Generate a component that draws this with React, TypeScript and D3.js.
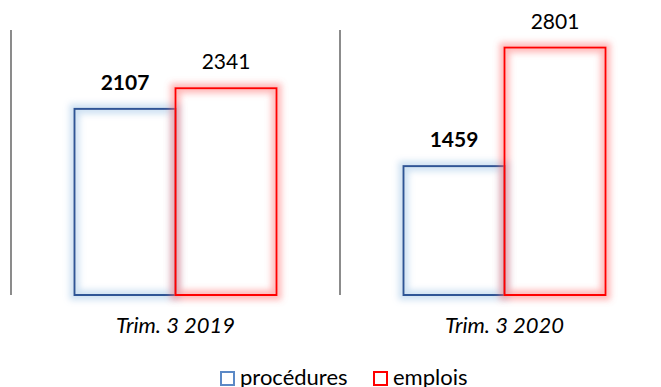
import React from "react";
import * as d3 from "d3";

const categories = ["Trim. 3 2019", "Trim. 3 2020"];
const seriesNames = ["procédures", "emplois"];
const procedures = [2107, 1459];
const emplois = [2341, 2801];

const W = 661;
const H = 387;
const FONT = "Lato, 'Open Sans', sans-serif";

export default function App() {
  const x = d3.scaleBand<string>().domain(categories).range([11, 669]);
  const inner = d3.scaleBand<string>().domain(seriesNames).range([0, 202]);
  const y = d3.scaleLinear().domain([0, 3000]).range([295, 30]);
  const series = [
    { name: "procedures", values: procedures, stroke: "#2F5496", glow: "#9DC3E6", legend: "#5B89C6", bold: true },
    { name: "emplois", values: emplois, stroke: "#FF0000", glow: "#FF7070", legend: "#FF0000", bold: false },
  ];
  return (
    <svg width={W} height={H} style={{ position: "absolute", left: 0, top: 0, background: "#fff" }}>
      <defs>
        {series.map((s) => (
          <filter key={s.name} id={"glow-" + s.name} x="-30%" y="-30%" width="160%" height="160%">
            <feMorphology in="SourceAlpha" operator="dilate" radius="4" result="d" />
            <feGaussianBlur in="d" stdDeviation="3" result="b" />
            <feFlood floodColor={s.glow} floodOpacity="0.5" />
            <feComposite in2="b" operator="in" result="g" />
            <feMerge>
              <feMergeNode in="g" />
              <feMergeNode in="SourceGraphic" />
            </feMerge>
          </filter>
        ))}
      </defs>
      {categories.map((c) => (
        <line key={"sep" + c} x1={x(c)!} x2={x(c)!} y1={y(3000)} y2={y(0)} stroke="#7F7F7F" strokeWidth={1.8} />
      ))}
      <line x1={x(categories[1])! + x.bandwidth()} x2={x(categories[1])! + x.bandwidth()} y1={y(3000)} y2={y(0)} stroke="#7F7F7F" strokeWidth={1.8} />
      {categories.map((c, i) => {
        const cx = x(c)! + x.bandwidth() / 2 - 101;
        return (
          <g key={c}>
            {series.map((s, j) => {
              const bx = cx + inner(seriesNames[j])!;
              const v = s.values[i];
              return (
                <g key={s.name}>
                  <rect
                    x={bx}
                    y={y(v)}
                    width={inner.bandwidth()}
                    height={y(0) - y(v)}
                    fill="none"
                    stroke={s.stroke}
                    strokeWidth={2}
                    filter={`url(#glow-${s.name})`}
                  />
                  <text
                    x={bx + inner.bandwidth() / 2}
                    y={y(v) - 19}
                    textAnchor="middle"
                    fontFamily={FONT}
                    fontSize={21}
                    fontWeight={s.bold ? "bold" : "normal"}
                    fill="#000"
                  >
                    {v}
                  </text>
                </g>
              );
            })}
            <text
              x={x(c)! + x.bandwidth() / 2}
              y={333}
              textAnchor="middle"
              fontFamily={FONT}
              fontSize={22}
              fontStyle="italic"
              fill="#000"
            >
              {c}
            </text>
          </g>
        );
      })}
      <g>
        <rect x={221} y={372} width={13} height={13} fill="#fff" stroke={series[0].legend} strokeWidth={2} />
        <text x={240} y={385} fontFamily={FONT} fontSize={22} fill="#000">{seriesNames[0]}</text>
        <rect x={374} y={372} width={13} height={13} fill="#fff" stroke={series[1].legend} strokeWidth={2} />
        <text x={393} y={385} fontFamily={FONT} fontSize={22} fill="#000">{seriesNames[1]}</text>
      </g>
    </svg>
  );
}
